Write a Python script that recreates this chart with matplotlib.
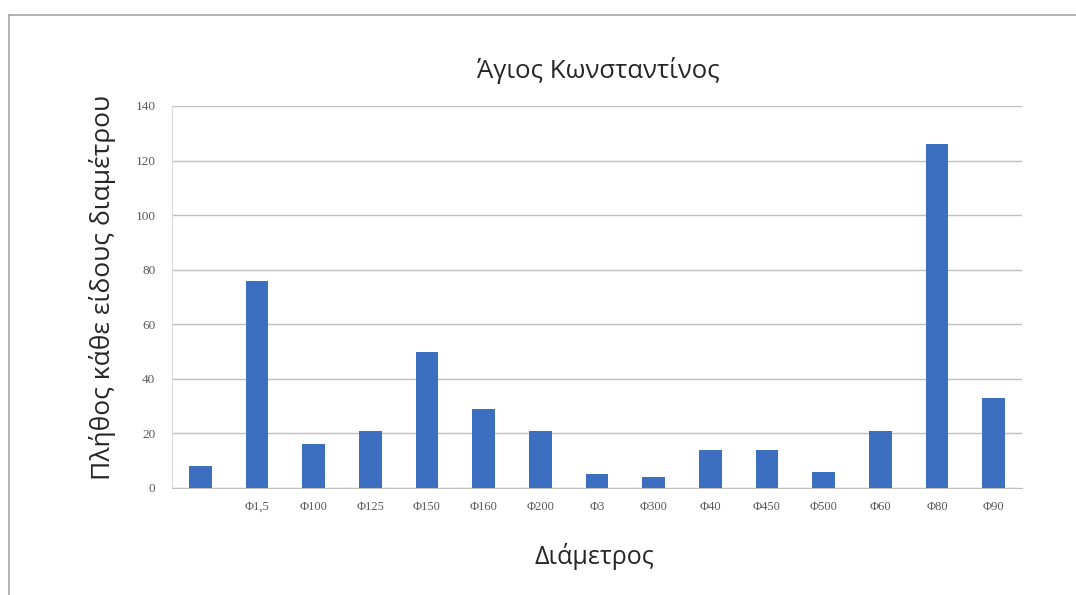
import matplotlib
matplotlib.use("Agg")
import matplotlib.pyplot as plt
from matplotlib.lines import Line2D

# Counts of each pipe diameter
categories = ["", "Φ1,5", "Φ100", "Φ125", "Φ150", "Φ160", "Φ200", "Φ3",
              "Φ300", "Φ40", "Φ450", "Φ500", "Φ60", "Φ80", "Φ90"]
counts = [8, 76, 16, 21, 50, 29, 21, 5, 4, 14, 14, 6, 21, 126, 33]
y_ticks = [0, 20, 40, 60, 80, 100, 120, 140]

title = "Άγιος Κωνσταντίνος"
x_label = "Διάμετρος"
y_label = "Πλήθος κάθε είδους διαμέτρου"

plt.rcParams["font.family"] = ["Open Sans", "DejaVu Sans"]

fig = plt.figure(figsize=(10.76, 5.95), dpi=100)
fig.patch.set_facecolor("white")

# Thin frame around the chart area
fig.add_artist(Line2D([9 / 1076, 1.0], [1 - 15 / 595, 1 - 15 / 595],
                      transform=fig.transFigure, color="#a6a6a6", lw=1.2))
fig.add_artist(Line2D([9 / 1076, 9 / 1076], [0.0, 1 - 15 / 595],
                      transform=fig.transFigure, color="#a6a6a6", lw=1.2))

ax = fig.add_axes([172 / 1076, 1 - 488 / 595, 850 / 1076, 382 / 595])
x = list(range(len(categories)))
ax.bar(x, counts, width=0.4, color="#3d6fc1", zorder=3)

ax.set_xlim(-0.5, len(categories) - 0.5)
ax.set_ylim(0, 140)
ax.set_yticks(y_ticks)
ax.set_yticklabels([str(t) for t in y_ticks], family="Liberation Serif",
                   fontsize=9.5, color="#595959")
ax.set_xticks(x)
ax.set_xticklabels(categories, family=["Liberation Serif", "DejaVu Sans"],
                   fontsize=9, color="#595959")
ax.tick_params(axis="y", length=0, pad=12)
ax.tick_params(axis="x", length=0, pad=9)

ax.grid(axis="y", color="#bfbfbf", lw=1, zorder=0)
for s in ("top", "right"):
    ax.spines[s].set_visible(False)
ax.spines["bottom"].set_color("#bfbfbf")
ax.spines["left"].set_color("#d9d9d9")

fig.text(598 / 1076, 1 - 70 / 595, title, ha="center", va="center",
         fontsize=18.5, color="#262626")
fig.text(594 / 1076, 1 - 557 / 595, x_label, ha="center", va="center",
         fontsize=18, color="#262626")
fig.text(103 / 1076, 1 - 287 / 595, y_label, ha="center", va="center",
         rotation=90, fontsize=19, color="#262626")

fig.savefig("out.png", dpi=100, facecolor="white")
